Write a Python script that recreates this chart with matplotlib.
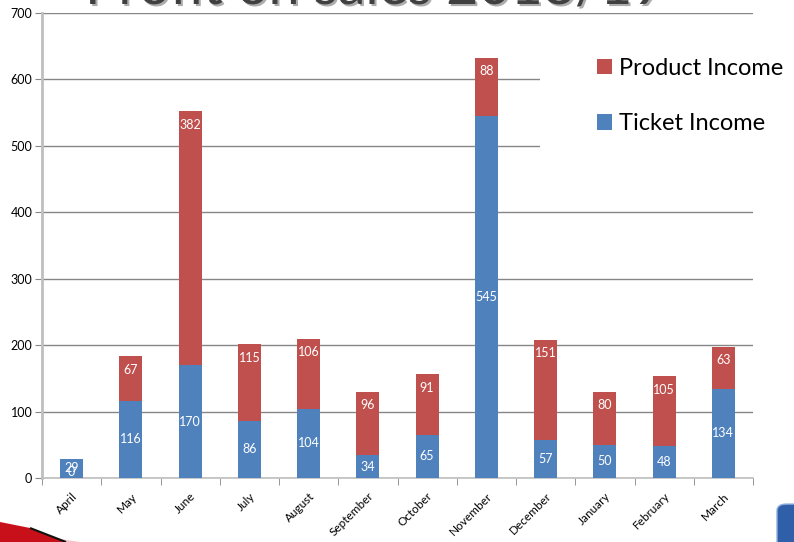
import matplotlib.pyplot as plt
import matplotlib.patheffects as pe
from matplotlib.patches import Polygon, FancyBboxPatch, Rectangle
import numpy as np

# Data
months = ["April", "May", "June", "July", "August", "September", "October",
          "November", "December", "January", "February", "March"]
ticket_income = [29, 116, 170, 86, 104, 34, 65, 545, 57, 50, 48, 134]
product_income = [0, 67, 382, 115, 106, 96, 91, 88, 151, 80, 105, 63]

blue = "#4F81BD"
red = "#C0504D"

plt.rcParams['font.family'] = ['Lato', 'DejaVu Sans']

W, H = 794, 542
fig = plt.figure(figsize=(W/100, H/100), dpi=100)
ax = fig.add_axes([42/W, 1-478/H, (753-42)/W, (478-13)/H])

x = np.arange(len(months))
w = 0.39
b1 = ax.bar(x, ticket_income, w, color=blue, label="Ticket Income", zorder=3)
b2 = ax.bar(x, product_income, w, bottom=ticket_income, color=red,
            label="Product Income", zorder=3)

# data labels: ticket centred, product just inside the top end
for i in range(len(months)):
    t, p = ticket_income[i], product_income[i]
    ax.text(x[i], t/2, str(t), ha='center', va='center', color='white',
            fontsize=9, zorder=4)
    ax.annotate(str(p), (x[i], t + p), xytext=(0, -9.5),
                textcoords='offset points', ha='center', va='center',
                color='white', fontsize=9, zorder=4)

ax.set_xlim(-0.5, len(months)-0.5)
ax.set_ylim(0, 700)
ax.set_yticks(range(0, 701, 100))
ax.yaxis.grid(True, color="#868686", linewidth=1)
ax.set_axisbelow(True)
ax.tick_params(axis='y', labelsize=9, length=5, color="#868686", pad=2)

ax.set_xticks(x)
ax.set_xticklabels(months, rotation=45, ha='right', rotation_mode='anchor',
                   fontsize=8.5)
ax.tick_params(axis='x', length=0, pad=9)
ax.set_xticks(np.arange(-0.5, len(months), 1), minor=True)
ax.tick_params(axis='x', which='minor', length=5, color="#868686")

for s in ['top', 'right']:
    ax.spines[s].set_visible(False)
ax.spines['left'].set_color("#BFBFBF")
ax.spines['left'].set_linewidth(2)
ax.spines['bottom'].set_color("#BFBFBF")
ax.spines['bottom'].set_linewidth(1.2)

# white legend area covering the gridlines
fig.patches.append(Rectangle((540/W, 1-190/H), 254/W, 165/H,
                             transform=fig.transFigure, facecolor='white',
                             edgecolor='none', zorder=5))
leg = fig.legend(handles=[b2, b1], loc='upper left',
                 bbox_to_anchor=(597/W, 1-58/H), frameon=False,
                 fontsize=17, handlelength=0.62, handleheight=0.62,
                 handletextpad=0.3, labelspacing=1.45, borderpad=0,
                 borderaxespad=0)
leg.set_zorder(10)

# slide title (cut off at the top)
fig.text(85/W, 1-4/H, "Profit on sales 2018/19", fontsize=40,
         color="#404040", ha='left', va='baseline',
         path_effects=[pe.withSimplePatchShadow(offset=(1.5, -1.5),
                                                shadow_rgbFace='#999999',
                                                alpha=0.8)])

# slide decorations
fig.patches.append(Polygon([(0, 1-530/H), (80/W, 0), (0, 0)], closed=True,
                           transform=fig.transFigure, facecolor="#F3C4C6",
                           edgecolor='none'))
fig.patches.append(Polygon([(0, 1-522/H), (30/W, 1-528/H), (66/W, 1-542/H),
                            (0, 0)], closed=True,
                           transform=fig.transFigure, facecolor="#C8101A",
                           edgecolor='none'))
fig.patches.append(Polygon([(30/W, 1-528/H), (66/W, 1-542/H)], closed=False,
                           transform=fig.transFigure, fill=False,
                           edgecolor="#111111", linewidth=1.5))
fig.patches.append(FancyBboxPatch((777/W, -0.02), 0.05, 0.09,
                                  boxstyle="round,pad=0,rounding_size=0.012",
                                  transform=fig.transFigure,
                                  facecolor="#2F5FA8", edgecolor="#8FB0DD"))

fig.savefig("out.png", dpi=100)
